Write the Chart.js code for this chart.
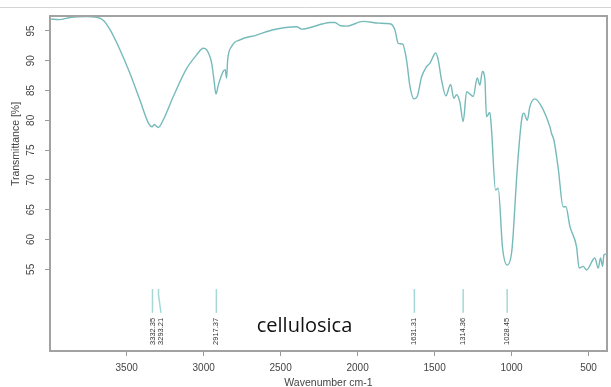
<!DOCTYPE html>
<html>
<head>
<meta charset="utf-8">
<script src="https://cdn.jsdelivr.net/npm/chart.js@4.4.0/dist/chart.umd.min.js"></script>
<style>
  html, body { margin: 0; padding: 0; background: #fff; }
  #wrap { position: relative; width: 611px; height: 387px; }
</style>
</head>
<body>
<div id="wrap"><canvas id="irChart" width="611" height="387"></canvas></div>
<script>
// spectrum
const wavenumbers = [3990, 3940, 3860, 3760, 3695, 3652, 3608, 3543, 3479, 3414, 3360, 3335, 3321, 3295, 3262,
  3197, 3110, 3045, 3003, 2980, 2948, 2933, 2920, 2905, 2873, 2860, 2851, 2844, 2818, 2764, 2656, 2548,
  2396, 2364, 2331, 2223, 2180, 2147, 2115, 2071, 1964, 1860, 1790, 1758, 1736, 1708, 1682, 1660, 1634,
  1613, 1584, 1552, 1530, 1492, 1476, 1455, 1427, 1396, 1375, 1357, 1336, 1314, 1292, 1249, 1223, 1206,
  1189, 1173, 1163, 1141, 1130, 1104, 1087, 1058, 1028, 1000, 989, 968, 942, 929, 920, 898, 881, 849,
  805, 751, 740, 725, 697, 665, 647, 621, 578, 561, 535, 513, 459, 437, 422, 409, 400, 383];
const transmittance = [97.0, 96.9, 97.3, 97.4, 97.3, 96.8, 95.2, 91.8, 87.9, 83.4, 79.6, 78.9, 79.3, 78.8, 80.1,
  84.0, 88.7, 91.0, 92.1, 91.8, 89.6, 86.8, 84.4, 85.9, 88.2, 88.5, 87.1, 90.1, 92.4, 93.5, 94.3, 95.2,
  95.7, 95.3, 95.4, 96.2, 96.4, 96.4, 95.9, 95.8, 96.6, 96.3, 96.2, 95.2, 92.9, 92.8, 90.1, 85.7, 83.6,
  84.0, 87.3, 89.0, 89.6, 91.3, 90.1, 86.8, 84.1, 86.0, 83.7, 84.3, 83.1, 79.8, 84.8, 84.0, 87.1, 85.9,
  88.2, 86.8, 80.6, 81.3, 78.4, 68.3, 68.6, 58.5, 55.7, 57.7, 61.0, 70.0, 78.4, 80.9, 81.2, 80.0, 82.3, 83.6,
  82.3, 78.9, 77.8, 76.7, 72.0, 65.5, 65.5, 62.2, 58.8, 55.2, 55.5, 54.9, 56.9, 55.2, 56.9, 55.5, 57.4, 57.6];

const peaks = [3332.35, 3293.21, 2917.37, 1631.31, 1314.36, 1028.45];
const xTicks = [3500, 3000, 2500, 2000, 1500, 1000, 500];
const yTicks = [55, 60, 65, 70, 75, 80, 85, 90, 95];

const sampleName = "cellulosica";
const lineColor = "#76baba";
const textColor = "#444";

const points = wavenumbers.map((w, i) => ({ x: w, y: transmittance[i] }));

const decorations = {
  id: "decorations",
  beforeDraw(chart) {
    const c = chart.ctx;
    c.save();
    c.strokeStyle = "#d4d4d4";
    c.lineWidth = 1;
    c.beginPath();
    c.moveTo(0, 7.5);
    c.lineTo(chart.width, 7.5);
    c.stroke();
    c.restore();
  },
  afterDraw(chart) {
    const c = chart.ctx;
    const xs = chart.scales.x;
    const ys = chart.scales.y;
    const area = chart.chartArea;
    c.save();

    // plot box
    c.strokeStyle = "#a2a2a2";
    c.lineWidth = 2;
    c.strokeRect(area.left, area.top, area.right - area.left, area.bottom - area.top);

    // y tick labels, rotated like R
    c.fillStyle = textColor;
    c.font = "10px 'Liberation Sans', Arial, sans-serif";
    c.textAlign = "center";
    c.textBaseline = "middle";
    yTicks.forEach(v => {
      c.save();
      c.translate(31.5, ys.getPixelForValue(v));
      c.rotate(-Math.PI / 2);
      c.fillText(String(v), 0, 0);
      c.restore();
    });

    // axis titles
    c.font = "10.5px 'Liberation Sans', Arial, sans-serif";
    c.save();
    c.translate(16, 144);
    c.rotate(-Math.PI / 2);
    c.fillText("Transmittance [%]", 0, 0);
    c.restore();
    c.fillText("Wavenumber cm-1", (area.left + area.right) / 2, 383);

    // peak markers
    const top = ys.getPixelForValue(51.7);
    const bottom = ys.getPixelForValue(47.7);
    let prev = -Infinity;
    c.font = "7.5px 'Liberation Sans', Arial, sans-serif";
    peaks.forEach(p => {
      const px = xs.getPixelForValue(p);
      let lx = px;
      if (lx - prev < 8.5) lx = prev + 8.5;
      prev = lx;
      c.strokeStyle = "#a4d8d8";
      c.lineWidth = 1.5;
      c.beginPath();
      c.moveTo(px, top);
      c.lineTo(px, top + (bottom - top) * 0.25);
      c.lineTo(lx, bottom);
      c.stroke();
      c.save();
      c.translate(lx, bottom + 5);
      c.rotate(-Math.PI / 2);
      c.fillStyle = "#333";
      c.textAlign = "right";
      c.textBaseline = "middle";
      c.fillText(p.toFixed(2), 0, 0);
      c.restore();
    });

    // sample name
    c.font = "20px 'Open Sans', sans-serif";
    c.fillStyle = "#111";
    c.textAlign = "left";
    c.textBaseline = "alphabetic";
    c.fillText(sampleName, xs.getPixelForValue(2655), ys.getPixelForValue(44.55));
    c.restore();
  }
};

const ctx = document.getElementById("irChart").getContext("2d");
const irChart = new Chart(ctx, {
  type: "line",
  data: {
    datasets: [
      {
        label: sampleName,
        data: points,
        borderColor: lineColor,
        borderWidth: 1.4,
        pointRadius: 0,
        fill: false,
        cubicInterpolationMode: "monotone"
      }
    ]
  },
  options: {
    responsive: false,
    animation: false,
    layout: { padding: { top: 16, right: 4, left: 0, bottom: 0 } },
    plugins: {
      legend: { display: false },
      tooltip: { enabled: false }
    },
    scales: {
      x: {
        type: "linear",
        reverse: true,
        min: 380,
        max: 3998,
        afterBuildTicks: scale => { scale.ticks = xTicks.map(v => ({ value: v })); },
        afterFit: scale => { scale.height = 36; },
        ticks: {
          color: textColor,
          font: { family: "'Liberation Sans', Arial, sans-serif", size: 10 },
          padding: 6,
          maxRotation: 0,
          minRotation: 0,
          callback: v => String(v)
        },
        grid: { drawOnChartArea: false, drawTicks: true, tickLength: 5, color: "#999" },
        border: { display: false }
      },
      y: {
        min: 41.3,
        max: 97.5,
        afterBuildTicks: scale => { scale.ticks = yTicks.map(v => ({ value: v })); },
        afterFit: scale => { scale.width = 50; },
        ticks: { display: false },
        grid: { drawOnChartArea: false, drawTicks: true, tickLength: 5, color: "#999" },
        border: { display: false }
      }
    }
  },
  plugins: [decorations]
});
</script>
</body>
</html>
